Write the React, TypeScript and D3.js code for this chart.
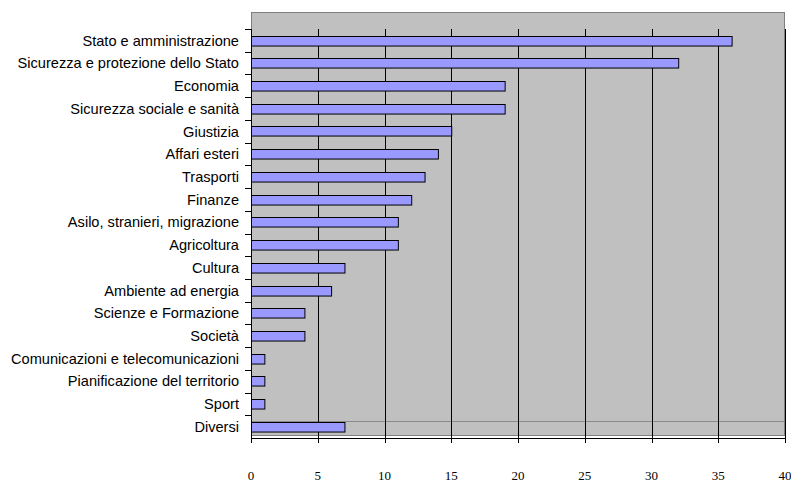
import React, { useEffect, useRef } from 'react'
import * as d3 from 'd3'

const categories = [
  'Stato e amministrazione',
  'Sicurezza e protezione dello Stato',
  'Economia',
  'Sicurezza sociale e sanità',
  'Giustizia',
  'Affari esteri',
  'Trasporti',
  'Finanze',
  'Asilo, stranieri, migrazione',
  'Agricoltura',
  'Cultura',
  'Ambiente ad energia',
  'Scienze e Formazione',
  'Società',
  'Comunicazioni e telecomunicazioni',
  'Pianificazione del territorio',
  'Sport',
  'Diversi',
]
const values = [36, 32, 19, 19, 15, 14, 13, 12, 11, 11, 7, 6, 4, 4, 1, 1, 1, 7]
const xTicks = [0, 5, 10, 15, 20, 25, 30, 35, 40]

const App = () => {
  const ref = useRef<SVGSVGElement>(null)

  useEffect(() => {
    const svg = d3.select(ref.current)
    svg.selectAll('*').remove()

    const left = 251
    const right = 785
    const top = 29
    const bottom = 438

    const x = d3.scaleLinear().domain([0, 40]).range([left, right])
    const y = d3.scaleBand().domain(categories).range([top, bottom]).paddingInner(0.58).paddingOuter(0.29)

    // plot background
    svg.append('rect')
      .attr('x', left + 0.5).attr('y', 12.5)
      .attr('width', right - left - 1).attr('height', 423)
      .attr('fill', '#c0c0c0')
      .attr('stroke', '#808080')
      .attr('stroke-width', 1)

    // stray horizontal line above last category
    svg.append('line')
      .attr('x1', left).attr('x2', right)
      .attr('y1', 421.5).attr('y2', 421.5)
      .attr('stroke', '#8a8a8a')

    // vertical gridlines
    svg.append('g')
      .selectAll('line')
      .data(xTicks.slice(1))
      .join('line')
      .attr('x1', d => Math.round(x(d)) + 0.5)
      .attr('x2', d => Math.round(x(d)) + 0.5)
      .attr('y1', top)
      .attr('y2', bottom)
      .attr('stroke', '#000')
      .attr('stroke-width', 1)

    // bars
    svg.append('g')
      .selectAll('rect')
      .data(values)
      .join('rect')
      .attr('x', left + 0.5)
      .attr('y', (d, i) => Math.round(y(categories[i])!) + 0.5)
      .attr('width', d => x(d) - left)
      .attr('height', y.bandwidth())
      .attr('fill', '#9999ff')
      .attr('stroke', '#000')
      .attr('stroke-width', 1)

    // y axis
    const yAxis = svg.append('g')
    yAxis.append('line')
      .attr('x1', left + 0.5).attr('x2', left + 0.5)
      .attr('y1', top).attr('y2', bottom)
      .attr('stroke', '#000')
    const step = (bottom - top) / categories.length
    yAxis.selectAll('line.tick')
      .data(d3.range(categories.length))
      .join('line')
      .attr('class', 'tick')
      .attr('x1', left - 6).attr('x2', left)
      .attr('y1', i => Math.round(top + i * step) + 0.5)
      .attr('y2', i => Math.round(top + i * step) + 0.5)
      .attr('stroke', '#000')
    yAxis.selectAll('text')
      .data(categories)
      .join('text')
      .attr('x', 239)
      .attr('y', d => y(d)! + y.bandwidth() / 2)
      .attr('dy', '0.36em')
      .attr('text-anchor', 'end')
      .attr('font-family', "'Liberation Sans', Arial, sans-serif")
      .attr('font-size', '14.6px')
      .attr('fill', '#000')
      .text(d => d)

    // x axis
    const xAxis = svg.append('g')
    xAxis.append('line')
      .attr('x1', left).attr('x2', right + 1)
      .attr('y1', bottom + 0.5).attr('y2', bottom + 0.5)
      .attr('stroke', '#000')
    xAxis.selectAll('line.tick')
      .data(xTicks)
      .join('line')
      .attr('class', 'tick')
      .attr('x1', d => Math.round(x(d)) + 0.5)
      .attr('x2', d => Math.round(x(d)) + 0.5)
      .attr('y1', bottom)
      .attr('y2', bottom + 5)
      .attr('stroke', '#000')
    xAxis.selectAll('text')
      .data(xTicks)
      .join('text')
      .attr('x', d => x(d))
      .attr('y', 480)
      .attr('text-anchor', 'middle')
      .attr('font-family', "'Liberation Serif', 'Times New Roman', serif")
      .attr('font-size', '13px')
      .attr('fill', '#000')
      .text(d => d)
  }, [])

  return (
    <svg ref={ref} width={791} height={482}
      style={{ position: 'absolute', left: 0, top: 0, background: '#fff' }} />
  )
}

export default App
